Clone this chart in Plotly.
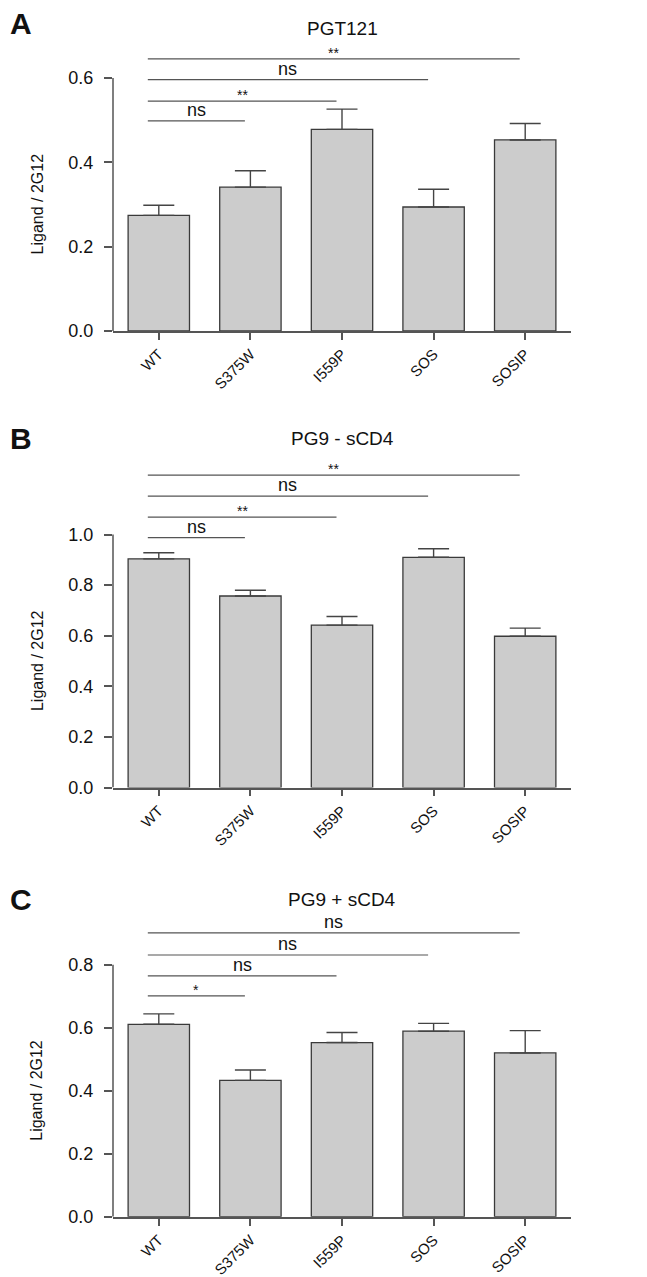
import plotly.graph_objects as go

# ---------------- data ----------------
categories = ["WT", "S375W", "I559P", "SOS", "SOSIP"]
panel_letters = ["A", "B", "C"]
panel_titles = ["PGT121", "PG9 - sCD4", "PG9 + sCD4"]

a_mean = [0.274, 0.341, 0.478, 0.294, 0.453]
a_err = [0.024, 0.039, 0.048, 0.042, 0.039]
b_mean = [0.904, 0.757, 0.642, 0.910, 0.598]
b_err = [0.024, 0.023, 0.034, 0.034, 0.032]
c_mean = [0.611, 0.433, 0.553, 0.589, 0.520]
c_err = [0.033, 0.033, 0.032, 0.025, 0.071]

a_yticks = [0.0, 0.2, 0.4, 0.6]
b_yticks = [0.0, 0.2, 0.4, 0.6, 0.8, 1.0]
c_yticks = [0.0, 0.2, 0.4, 0.6, 0.8]

# comparisons vs WT (target index 1..4)
sig_targets = [1, 2, 3, 4]
a_sig_labels = ["ns", "**", "ns", "**"]
a_sig_heights = [0.498, 0.545, 0.596, 0.645]
b_sig_labels = ["ns", "**", "ns", "**"]
b_sig_heights = [0.988, 1.069, 1.152, 1.235]
c_sig_labels = ["*", "ns", "ns", "ns"]
c_sig_heights = [0.701, 0.765, 0.831, 0.901]

y_title = "Ligand / 2G12"

# ---------------- layout geometry (pixels) ----------------
W, H = 647, 1277
PL, PR = 105, 563
panels = [
    dict(mean=a_mean, err=a_err, ticks=a_yticks, labels=a_sig_labels, heights=a_sig_heights,
         zero_px=325.5, ppu=425.0, ymax=0.70, letter_y=15.5, title_y=20.5),
    dict(mean=b_mean, err=b_err, ticks=b_yticks, labels=b_sig_labels, heights=b_sig_heights,
         zero_px=785.7, ppu=255.0, ymax=1.28, letter_y=434, title_y=434),
    dict(mean=c_mean, err=c_err, ticks=c_yticks, labels=c_sig_labels, heights=c_sig_heights,
         zero_px=1218.3, ppu=317.5, ymax=0.93, letter_y=898.5, title_y=899),
]

FONT = "Liberation Sans, Arial, Helvetica, sans-serif"
AXC = "#555555"
fig = go.Figure()
shapes = []
annotations = []
layout = dict(
    width=W, height=H, margin=dict(l=0, r=0, t=0, b=0),
    paper_bgcolor="white", plot_bgcolor="white", showlegend=False,
    font=dict(family=FONT, color="#111111"),
)

for i, p in enumerate(panels):
    n = "" if i == 0 else str(i + 1)
    xa, ya = "x" + n, "y" + n
    bottom = 1 - p["zero_px"] / H
    top = 1 - (p["zero_px"] - p["ymax"] * p["ppu"]) / H
    fig.add_trace(go.Bar(
        x=categories, y=p["mean"], xaxis=xa, yaxis=ya,
        marker=dict(color="#cccccc", line=dict(color="#3a3a3a", width=1.3)),
        error_y=dict(type="data", array=p["err"], arrayminus=[0] * len(p["err"]),
                     symmetric=False, color="#444444", thickness=1.4, width=15.5),
        hoverinfo="skip",
    ))
    layout["xaxis" + n] = dict(
        domain=[PL / W, PR / W], anchor=ya, type="category", range=[-0.5, 4.5],
        showline=True, linecolor=AXC, linewidth=1.5, ticks="outside", ticklen=7,
        tickwidth=1.5, tickcolor=AXC, tickangle=-45, showgrid=False, zeroline=False,
        tickfont=dict(size=15, family=FONT, color="#111111"), fixedrange=True,
    )
    layout["yaxis" + n] = dict(
        domain=[bottom, top], anchor=xa, range=[0, p["ymax"]], tickvals=p["ticks"],
        tickformat=".1f", ticks="outside", ticklen=8, tickwidth=1.5, tickcolor=AXC,
        showline=False, showgrid=False, zeroline=False, ticklabelstandoff=7,
        tickfont=dict(size=18, family=FONT, color="#111111"), fixedrange=True,
    )
    # y axis line (only to last tick)
    shapes.append(dict(type="line", xref=xa + " domain", yref=ya, x0=0, x1=0,
                       y0=0, y1=p["ticks"][-1], line=dict(color=AXC, width=1.5)))
    # significance brackets
    for t, lab, h in zip(sig_targets, p["labels"], p["heights"]):
        x0, x1 = -0.12, t - 0.06
        shapes.append(dict(type="line", xref=xa, yref=ya, x0=x0, x1=x1, y0=h, y1=h,
                           line=dict(color="#555555", width=1.2)))
        star = lab.startswith("*")
        annotations.append(dict(text=lab, xref=xa, yref=ya, x=(x0 + x1) / 2, y=h,
                                xanchor="center", yanchor="bottom", showarrow=False,
                                yshift=-4 if star else -1,
                                font=dict(size=14 if star else 18, family=FONT, color="#111111")))
    # y title
    annotations.append(dict(text=y_title, xref="paper", yref=ya, x=29 / W, y=p["ticks"][-1] / 2,
                            xanchor="center", yanchor="middle", textangle=-90, showarrow=False,
                            font=dict(size=16, family=FONT, color="#111111")))
    # panel title
    annotations.append(dict(text=panel_titles[i], xref="paper", yref="paper",
                            x=(PL + PR) / 2 / W, y=1 - p["title_y"] / H,
                            xanchor="center", yanchor="middle", showarrow=False,
                            font=dict(size=19, family=FONT, color="#111111")))
    # panel letter
    annotations.append(dict(text="<b>" + panel_letters[i] + "</b>", xref="paper", yref="paper",
                            x=0, y=1 - p["letter_y"] / H, xanchor="left", yanchor="middle",
                            showarrow=False, font=dict(size=30, family=FONT, color="#111111")))

layout["shapes"] = shapes
layout["annotations"] = annotations
layout["bargap"] = 0.33
fig.update_layout(**layout)
fig.write_html("out.html")
